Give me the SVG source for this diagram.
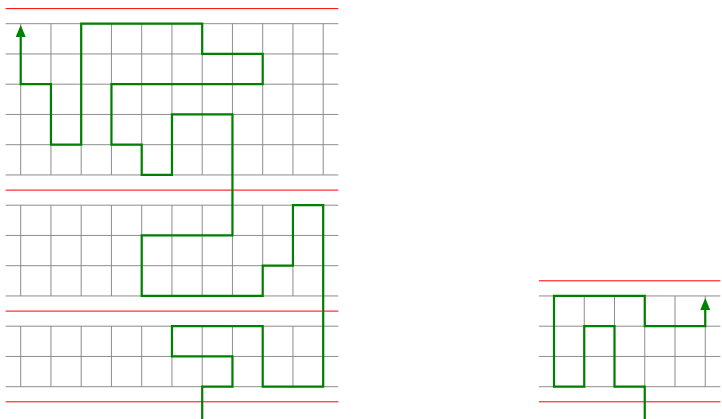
<svg xmlns="http://www.w3.org/2000/svg" width="722" height="419" viewBox="0 0 722 419">
<style>
.grid{fill:none;stroke:#808080;stroke-width:0.9}
.red{fill:none;stroke:#ff0000;stroke-width:1}
.route{fill:none;stroke:#008000;stroke-width:2.2;stroke-linejoin:miter;stroke-linecap:butt}
</style>
<defs>
<marker id="tip" markerUnits="userSpaceOnUse" markerWidth="12" markerHeight="10" refX="1" refY="5" orient="auto" viewBox="0 0 12 10">
<path d="M0,0 L12,5 L0,10 z" fill="#008000"/>
</marker>
</defs>
<g id="left-grid">
<path class="grid" d="M5.6 23.7H338.3M5.6 53.95H338.3M5.6 84.2H338.3M5.6 114.45H338.3M5.6 144.7H338.3M5.6 174.95H338.3M5.6 205.2H338.3M5.6 235.45H338.3M5.6 265.7H338.3M5.6 295.95H338.3M5.6 326.2H338.3M5.6 356.45H338.3M5.6 386.7H338.3
M20.7 23.7V174.95M50.95 23.7V174.95M81.2 23.7V174.95M111.45 23.7V174.95M141.7 23.7V174.95M171.95 23.7V174.95M202.2 23.7V174.95M232.45 23.7V174.95M262.7 23.7V174.95M292.95 23.7V174.95M323.2 23.7V174.95
M20.7 205.2V295.95M50.95 205.2V295.95M81.2 205.2V295.95M111.45 205.2V295.95M141.7 205.2V295.95M171.95 205.2V295.95M202.2 205.2V295.95M232.45 205.2V295.95M262.7 205.2V295.95M292.95 205.2V295.95M323.2 205.2V295.95
M20.7 326.2V386.7M50.95 326.2V386.7M81.2 326.2V386.7M111.45 326.2V386.7M141.7 326.2V386.7M171.95 326.2V386.7M202.2 326.2V386.7M232.45 326.2V386.7M262.7 326.2V386.7M292.95 326.2V386.7M323.2 326.2V386.7"/>
<path class="red" d="M5.6 8.6H338.3M5.6 190.1H338.3M5.6 311.1H338.3M5.6 401.8H338.3"/>
</g>
<g id="right-grid">
<path class="grid" d="M538.9 295.95H720.4M538.9 326.2H720.4M538.9 356.45H720.4M538.9 386.7H720.4
M554 295.95V386.7M584.25 295.95V386.7M614.5 295.95V386.7M644.75 295.95V386.7M675 295.95V386.7M705.25 295.95V386.7"/>
<path class="red" d="M538.9 280.8H720.4M538.9 401.8H720.4"/>
</g>
<g id="connectors">
<path class="route" marker-end="url(#tip)" d="M202.2 419V386.7H232.45V356.45H171.95V326.2H262.7V386.7H323.2V205.2H292.95V265.7H262.7V295.95H141.7V235.45H232.45V114.45H171.95V174.95H141.7V144.7H111.45V84.2H262.7V53.95H202.2V23.7H81.2V144.7H50.95V84.2H20.7V36"/>
<path class="route" marker-end="url(#tip)" d="M644.75 419V386.7H614.5V326.2H584.25V386.7H554V295.95H644.75V326.2H705.25V309"/>
</g>
</svg>
